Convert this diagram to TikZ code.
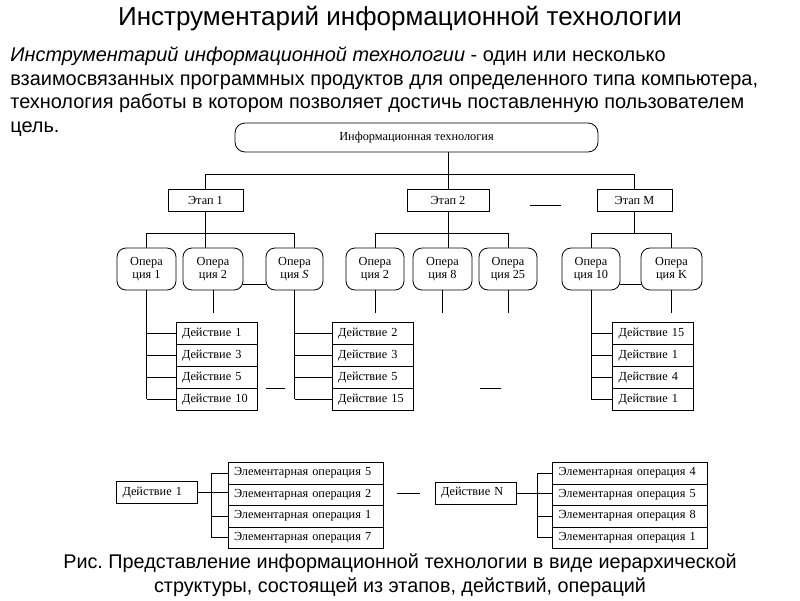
\documentclass[tikz,border=0pt]{standalone}
\usepackage{fontspec}
\setmainfont{Liberation Serif}
\newfontfamily\arialfont{Liberation Sans}
\usetikzlibrary{positioning}
\frenchspacing

\begin{document}
\begin{tikzpicture}[x=1pt, y=-1pt, line width=0.8pt,
    every node/.style={font=\fontsize{12.3}{12.3}\selectfont, inner sep=0pt},
    techbox/.style={draw, rounded corners=10pt, minimum width=363pt, minimum height=29pt},
    stagebox/.style={draw, minimum height=22pt},
    opbox/.style={draw, rounded corners=9pt, minimum height=42pt, align=center,
        font=\fontsize{12.3}{13.5}\selectfont},
    actbox/.style={draw, anchor=north, minimum height=22pt, inner xsep=6pt,
        text width=69pt, align=left},
    elembox/.style={draw, anchor=north, minimum height=21.5pt, inner xsep=6pt,
        text width=143pt, align=left},
    headtext/.style={font=\arialfont\fontsize{19.9}{19.9}\selectfont, anchor=base west}]
    \useasboundingbox (0,0) rectangle (800,600);
    % Title and definition
    \node[anchor=base, font=\arialfont\fontsize{26}{26}\selectfont] (title) at (400,25)
        {Инструментарий информационной технологии};
    \node[headtext] (line1) at (10,61)
        {\textit{Инструментарий информационной технологии} - один или несколько};
    \node[headtext] (line2) at (10,85)
        {взаимосвязанных программных продуктов для определенного типа компьютера,};
    \node[headtext] (line3) at (10,108)
        {технология работы в котором позволяет достичь поставленную пользователем};
    \node[headtext] (line4) at (10,132) {цель.};
    % Information technology and stages
    \node[techbox] (it) at (416.5,137.5) {Информационная технология};
    \node[stagebox, minimum width=75pt] (st1) at (205.5,200) {Этап 1};
    \node[stagebox, minimum width=82pt] (st2) at (448,200) {Этап 2};
    \node[stagebox, minimum width=75pt] (stM) at (634.5,200) {Этап M};
    \draw (530,205) -- (561,205);
    \draw (st2.north) -- (st2.north |- it.south);
    \draw (st1.north) -- ++(0,-14) -| (stM.north);
    % Operations
    \node[opbox, minimum width=59pt] (op11) at (146.5,269) {Опера\\ция 1};
    \node[opbox, minimum width=60pt] (op12) at (213,269) {Опера\\ция 2};
    \node[opbox, minimum width=57pt] (op1S) at (294.5,269) {Опера\\ция \textit{S}};
    \node[opbox, minimum width=58pt] (op21) at (375,269) {Опера\\ция 2};
    \node[opbox, minimum width=59pt] (op22) at (442.5,269) {Опера\\ция 8};
    \node[opbox, minimum width=58pt] (op23) at (508,269) {Опера\\ция 25};
    \node[opbox, minimum width=58pt] (opM1) at (591,269) {Опера\\ция 10};
    \node[opbox, minimum width=61pt] (opM2) at (671.5,269) {Опера\\ция K};
    \draw (st1.south) -- (st1.south |- op12.north);
    \draw (op11.north) -- ++(0,-14) -| (op1S.north);
    \draw (st2.south) -- (st2.south |- op22.north);
    \draw (op21.north) -- ++(0,-14) -| (op23.north);
    \draw (stM.south) -- ++(0,23);
    \draw (opM1.north) -- ++(0,-14) -| (opM2.north);
    \draw ([yshift=6pt]op12.south east) -- ([yshift=6pt]op1S.south west);
    \draw ([yshift=6pt]opM1.south east) -- ([yshift=6pt]opM2.south west);
    \foreach \n in {op12,op21,op22,op23,opM2}
        \draw (\n.south) -- ++(0,23);
    % Actions
    \foreach \t [count=\i] in {Действие 1, Действие 3, Действие 5, Действие 10}
        \node[actbox] (a1\i) at (216.5,{322+22*(\i-1)}) {\t};
    \foreach \t [count=\i] in {Действие 2, Действие 3, Действие 5, Действие 15}
        \node[actbox] (a2\i) at (372.5,{322+22*(\i-1)}) {\t};
    \foreach \t [count=\i] in {Действие 15, Действие 1, Действие 4, Действие 1}
        \node[actbox] (a3\i) at (653,{322+22*(\i-1)}) {\t};
    \draw (op11.south) -- (op11.south |- a14.west);
    \draw (op1S.south) -- (op1S.south |- a24.west);
    \draw (opM1.south) -- (opM1.south |- a34.west);
    \foreach \i in {1,...,4} {
        \draw (op11.south |- a1\i.west) -- (a1\i.west);
        \draw (op1S.south |- a2\i.west) -- (a2\i.west);
        \draw (opM1.south |- a3\i.west) -- (a3\i.west);
    }
    \draw (266,388) -- (285,388);
    \draw (480,388) -- (501,388);
    % Elementary operations
    \node[actbox, anchor=center] (d1) at (157,492.5) {Действие 1};
    \node[actbox, anchor=center] (dN) at (475.5,493) {Действие N};
    \foreach \t [count=\i] in {5,2,1,7}
        \node[elembox] (e1\i) at (305.5,{462+21.5*(\i-1)}) {Элементарная операция \t};
    \foreach \t [count=\i] in {4,5,8,1}
        \node[elembox] (e2\i) at (630,{462+21.5*(\i-1)}) {Элементарная операция \t};
    \draw (d1.east) -- (d1.east -| e12.west);
    \draw (e11.west) -- ++(-16,0) |- (e14.west);
    \draw ([xshift=-16pt]e13.west) -- (e13.west);
    \draw (dN.east) -- (dN.east -| e22.west);
    \draw (e21.west) -- ++(-15,0) |- (e24.west);
    \draw ([xshift=-15pt]e23.west) -- (e23.west);
    \draw (397,493) -- (420,493);
    % Caption
    \node[anchor=base, font=\arialfont\fontsize{19.8}{19.8}\selectfont] (cap1) at (400,568)
        {Рис. Представление информационной технологии в виде иерархической};
    \node[anchor=base, font=\arialfont\fontsize{19.8}{19.8}\selectfont] (cap2) at (400,592)
        {структуры, состоящей из этапов, действий, операций};
\end{tikzpicture}
\end{document}
